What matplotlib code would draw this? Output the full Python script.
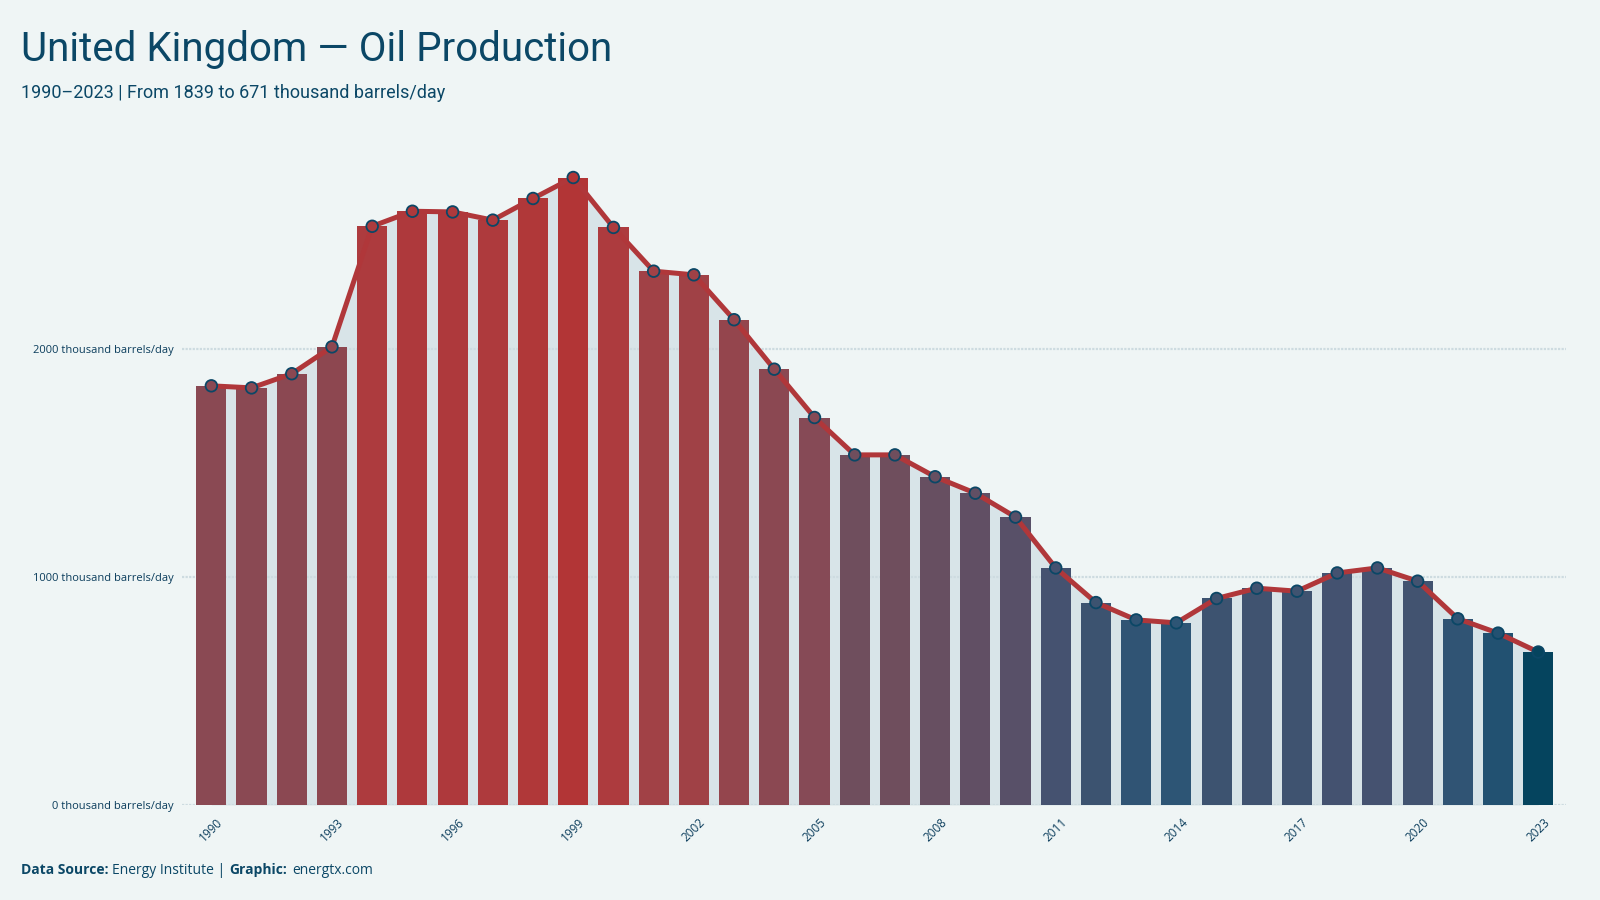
#!/usr/bin/env python
"""UK oil production 1990-2023, bars + line over a shaded area."""

import matplotlib
matplotlib.use('Agg')
import matplotlib.pyplot as plt
from matplotlib.colors import LinearSegmentedColormap
import numpy as np

# Data (thousand barrels/day)
years = list(range(1990, 2024))
production = [1839, 1830, 1892, 2010, 2539, 2605, 2602, 2566, 2661, 2753,
              2534, 2342, 2326, 2129, 1912, 1700, 1536, 1536, 1440, 1368,
              1263, 1040, 888, 812, 799, 906, 951, 938, 1018, 1040,
              982, 817, 754, 671]
ytick_values = [0, 1000, 2000]
ytick_labels = ['0 thousand barrels/day', '1000 thousand barrels/day',
                '2000 thousand barrels/day']
xtick_years = list(range(1990, 2024, 3))

# Colours
BG = '#eff5f5'
NAVY = '#0b4766'
LINE_RED = '#b0373a'
AREA = '#d8e4e8'
cmap = LinearSegmentedColormap.from_list('prod', [
    (0.00, '#05445e'), (0.05, '#2a5576'), (0.10, '#3c5370'),
    (0.20, '#485270'), (0.30, '#5c5066'), (0.41, '#6d4e5e'),
    (0.50, '#884a55'), (0.65, '#8d4750'), (0.80, '#a04146'),
    (0.90, '#ad3b3e'), (1.00, '#b23536')])

vals = np.array(production, dtype=float)
norm = (vals - vals.min()) / (vals.max() - vals.min())
colors = [cmap(n) for n in norm]

TITLE_FONT = ['Roboto', 'DejaVu Sans']
BODY_FONT = ['Open Sans', 'DejaVu Sans']

fig = plt.figure(figsize=(16, 9), dpi=100, facecolor=BG)
ax = fig.add_axes([0.114, 0.1056, 0.865, 0.7344])
ax.set_facecolor(BG)

# shaded area under the line
ax.fill_between(years, production, 0, color=AREA, zorder=1, linewidth=0)

# grid lines
for v in ytick_values:
    ax.axhline(v, color='#cddbe0', linewidth=1.6, linestyle=(0, (1, 0.6)),
               zorder=1.5)

# bars
ax.bar(years, production, width=0.75, color=colors, zorder=2, linewidth=0)

# line with markers
ax.plot(years, production, color=LINE_RED, linewidth=3.6, zorder=3,
        solid_joinstyle='round')
ax.scatter(years, production, s=70, c=colors, edgecolors=NAVY,
           linewidths=1.3, zorder=4)

ax.set_xlim(1990 - 0.72, 2023 + 0.7)
ax.set_ylim(0, 2900)

ax.set_yticks(ytick_values)
ax.set_yticklabels(ytick_labels, fontsize=8, color='#0b3d5c',
                   family=BODY_FONT)
ax.set_xticks(xtick_years)
ax.set_xticklabels([str(y) for y in xtick_years], rotation=45, fontsize=8.5,
                   color='#0b3d5c', family=BODY_FONT, ha='center')
ax.tick_params(axis='both', length=0, pad=6)
ax.tick_params(axis='x', pad=8)
for s in ax.spines.values():
    s.set_visible(False)

# titles
fig.text(0.013, 0.945, 'United Kingdom \u2014 Oil Production', fontsize=29,
         color=NAVY, family=TITLE_FONT, va='center', ha='left')
fig.text(0.013, 0.897, '1990\u20132023 | From 1839 to 671 thousand barrels/day',
         fontsize=13, color=NAVY, family=TITLE_FONT, va='center', ha='left')

# footer
t1 = fig.text(0.013, 0.033, 'Data Source:', fontsize=10, color=NAVY,
              family=BODY_FONT, weight='bold', va='center')
fig.canvas.draw()
bb = t1.get_window_extent()
x2 = bb.x1 / fig.bbox.width + 0.002
t2 = fig.text(x2, 0.033, 'Energy Institute |', fontsize=10, color=NAVY,
              family=BODY_FONT, va='center')
bb = t2.get_window_extent()
x3 = bb.x1 / fig.bbox.width + 0.003
t3 = fig.text(x3, 0.033, 'Graphic:', fontsize=10, color=NAVY,
              family=BODY_FONT, weight='bold', va='center')
bb = t3.get_window_extent()
x4 = bb.x1 / fig.bbox.width + 0.003
fig.text(x4, 0.033, 'energtx.com', fontsize=10, color=NAVY,
         family=BODY_FONT, va='center')

fig.savefig('out.png', dpi=100, facecolor=BG)
